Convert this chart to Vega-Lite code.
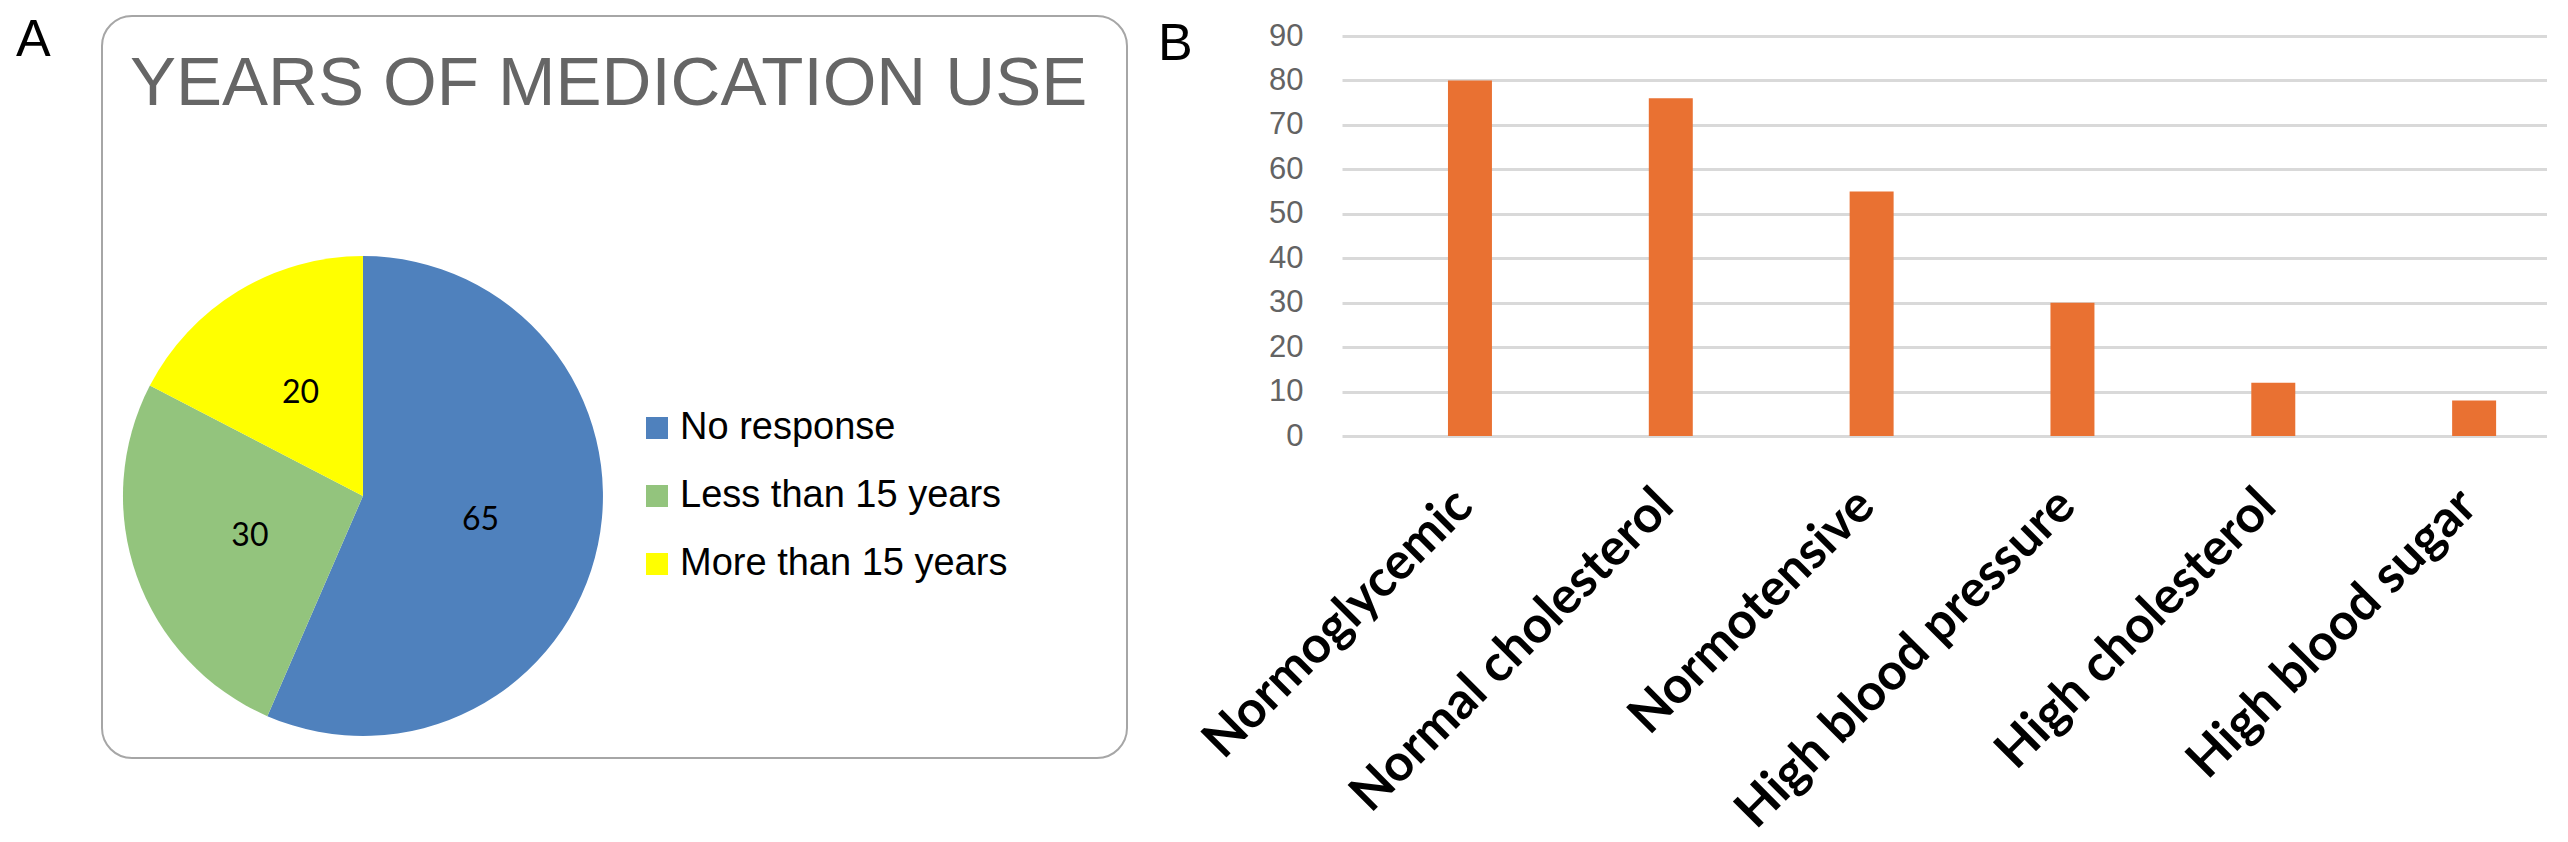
{
  "$schema": "https://vega.github.io/schema/vega-lite/v6.json",
  "background": "white",
  "padding": {"left": 16, "top": 14, "right": 0, "bottom": 0},
  "title": {"text": "A", "font": "Liberation Sans", "fontSize": 52, "fontWeight": "normal", "color": "black", "anchor": "start", "frame": "group", "orient": "top", "offset": -50, "baseline": "top", "dx": -86, "dy": 2},
  "bounds": "flush",
  "spacing": 215,
  "config": {"view": {"stroke": null}},
  "hconcat": [
    {
      "width": 1025,
      "height": 742,
      "view": {"stroke": "#A6A6A6", "strokeWidth": 2, "cornerRadius": 30, "fill": "white"},
      "title": {"text": "YEARS OF MEDICATION USE", "font": "Liberation Sans", "fontSize": 69, "fontWeight": "normal", "color": "#666666", "anchor": "start", "frame": "group", "orient": "top", "offset": -73, "baseline": "top", "dx": 28, "dy": 30},
      "data": {"values": [
        {"category": "No response", "value": 65},
        {"category": "Less than 15 years", "value": 30},
        {"category": "More than 15 years", "value": 20}
      ]},
      "encoding": {
        "theta": {"field": "value", "type": "quantitative", "stack": true},
        "order": {"field": "value", "type": "quantitative", "sort": "descending"},
        "x": {"datum": 0.2546, "type": "quantitative", "scale": {"domain": [0, 1]}, "axis": null},
        "y": {"datum": 0.3531, "type": "quantitative", "scale": {"domain": [0, 1]}, "axis": null}
      },
      "layer": [
        {
          "mark": {"type": "arc", "outerRadius": 240, "stroke": null},
          "encoding": {
            "color": {
              "field": "category",
              "type": "nominal",
              "sort": ["No response", "Less than 15 years", "More than 15 years"],
              "scale": {"domain": ["No response", "Less than 15 years", "More than 15 years"], "range": ["#4F81BD", "#93C47D", "#FFFF00"]},
              "legend": {
                "title": null,
                "orient": "none",
                "legendX": 536,
                "legendY": 393,
                "symbolType": "square",
                "symbolSize": 484,
                "symbolStrokeWidth": 0,
                "labelFont": "Liberation Sans",
                "labelFontSize": 38,
                "labelColor": "black",
                "labelOffset": 4,
                "labelLimit": 0,
                "rowPadding": 30,
                "padding": 0
              }
            }
          }
        },
        {
          "mark": {"type": "text", "radius": 120, "font": "Lato", "fontSize": 32, "color": "black"},
          "encoding": {"text": {"field": "value", "type": "quantitative"}}
        }
      ]
    },
    {
      "width": 1205,
      "height": 420,
      "title": {"text": "B", "font": "Liberation Sans", "fontSize": 52, "fontWeight": "normal", "color": "black", "anchor": "start", "frame": "group", "orient": "top", "offset": -51, "baseline": "top", "dx": -184, "dy": 4},
      "data": {"values": [
        {"label": "Normoglycemic", "value": 80},
        {"label": "Normal cholesterol", "value": 76},
        {"label": "Normotensive", "value": 55},
        {"label": "High blood pressure", "value": 30},
        {"label": "High cholesterol", "value": 12},
        {"label": "High blood sugar", "value": 8}
      ]},
      "mark": {"type": "bar", "color": "#E97132"},
      "encoding": {
        "x": {
          "field": "label",
          "type": "nominal",
          "sort": null,
          "scale": {"paddingInner": 0.781, "paddingOuter": 0.3905, "align": 0.6756},
          "axis": {"title": null, "labelAngle": -45, "labelFont": "Lato", "labelFontWeight": "bold", "labelFontSize": 51, "labelColor": "black", "labelLimit": 0, "ticks": false, "tickSize": 0, "domain": false, "labelPadding": 44, "labelOffset": -23}
        },
        "y": {
          "field": "value",
          "type": "quantitative",
          "scale": {"domain": [0, 94.5], "nice": false},
          "axis": {"title": null, "values": [0, 10, 20, 30, 40, 50, 60, 70, 80, 90], "ticks": false, "tickSize": 0, "domain": false, "labelFont": "Liberation Sans", "labelFontSize": 31, "labelColor": "#636363", "labelPadding": 39, "grid": true, "gridColor": "#D9D9D9", "gridWidth": 3}
        }
      }
    }
  ]
}
